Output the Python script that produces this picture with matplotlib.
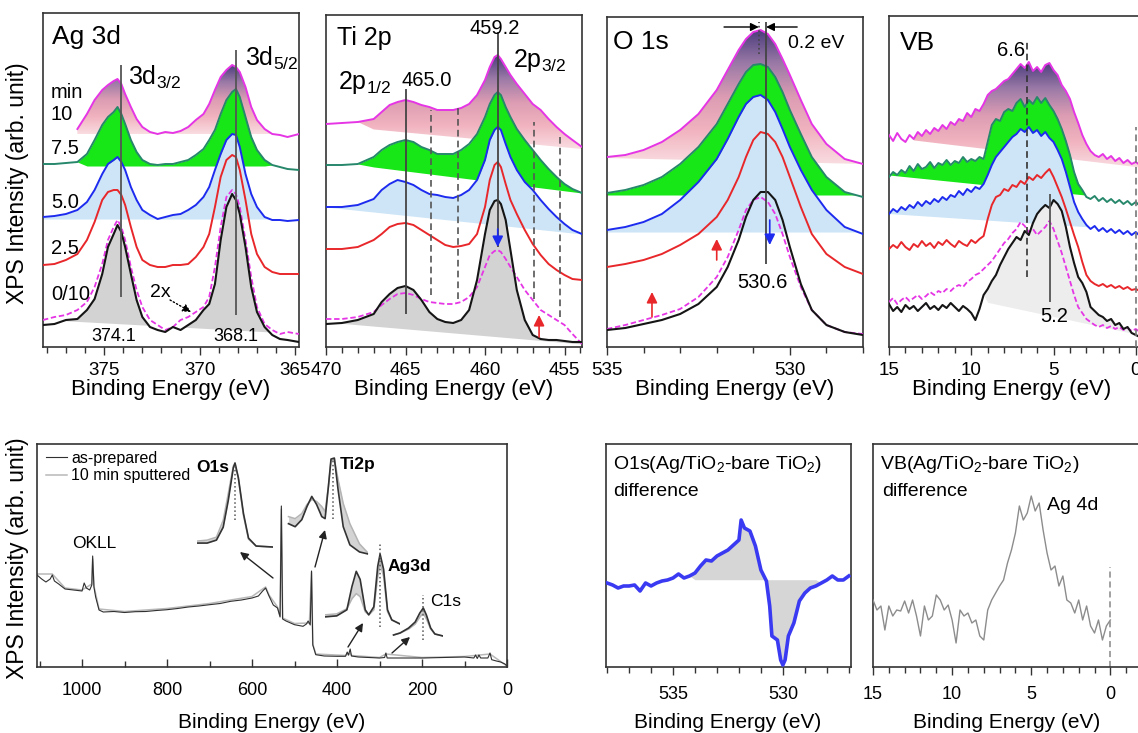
import numpy as np
import matplotlib
matplotlib.use("Agg")
import matplotlib.pyplot as plt
from matplotlib.colors import LinearSegmentedColormap
from matplotlib.path import Path
from matplotlib.ticker import MultipleLocator

plt.rcParams['font.family'] = ['Liberation Sans', 'DejaVu Sans']
plt.rcParams['mathtext.fontset'] = 'custom'
plt.rcParams['mathtext.rm'] = 'Liberation Sans'
plt.rcParams['mathtext.it'] = 'Liberation Sans:italic'
plt.rcParams['mathtext.bf'] = 'Liberation Sans:bold'

W, H = 1138, 733

# ---------------- Ag 3d (sputter time: 10, 7.5, 5.0, 2.5, 0 min + 10 min dashed) ----------------
AG_E = [378.2, 377.6, 377.0, 376.4, 375.9, 375.5, 375.1, 374.8, 374.5, 374.3, 374.1, 373.9, 373.6,
        373.3, 373.0, 372.6, 372.2, 371.8, 371.4, 371.0, 370.6, 370.2, 369.8, 369.5, 369.2, 368.9,
        368.6, 368.3, 368.1, 367.9, 367.6, 367.3, 367.0, 366.6, 366.2, 365.8, 365.4, 364.8]
AG_10 = [218, 233, 247, 257, 262, 266, 268, 263, 253, 240, 228, 220, 215, 213, 215, 214, 216, 220,
         227, 233, 243, 257, 270, 277, 282, 280, 275, 260, 240, 227, 218, 213, 212, 210, 213]
AG_75 = [183, 183, 184, 185, 193, 207, 222, 230, 235, 240, 233, 223, 207, 195, 187, 183, 182, 183, 183,
         185, 187, 192, 198, 207, 217, 233, 247, 255, 258, 250, 230, 210, 197, 187, 182, 180, 178, 177]
AG_50 = [130, 131, 133, 137, 145, 157, 173, 183, 187, 190, 185, 177, 160, 147, 137, 132, 128, 130, 132,
         133, 137, 142, 150, 160, 177, 193, 207, 213, 212, 200, 173, 153, 140, 130, 127, 127, 126, 127]
AG_25 = [82, 83, 87, 93, 107, 125, 147, 155, 157, 157, 152, 142, 120, 100, 87, 82, 80, 80, 82, 82,
         83, 90, 100, 113, 140, 170, 187, 192, 190, 177, 147, 113, 93, 80, 75, 73, 73, 73]
AG_10S = [27, 30, 32, 37, 45, 60, 83, 107, 120, 127, 120, 107, 80, 57, 40, 27, 22, 17, 20, 27,
          30, 35, 40, 50, 80, 120, 150, 157, 153, 140, 107, 70, 40, 23, 17, 13, 15, 13]
AG_0 = [22, 23, 27, 28, 37, 48, 73, 100, 113, 122, 115, 100, 73, 47, 30, 20, 17, 15, 20, 17,
        22, 27, 37, 43, 63, 107, 140, 153, 147, 133, 100, 60, 35, 20, 12, 8, 7, 5]
AG_PEAKS = [374.1, 368.1]

# ---------------- Ti 2p ----------------
TI_E = [470, 469, 468, 467, 466.5, 466, 465.5, 465, 464.5, 464, 463.5, 463, 462.5, 462, 461.5, 461,
        460.5, 460, 459.7, 459.4, 459.2, 459.0, 458.7, 458.4, 458, 457.5, 457, 456.5, 456, 455.5,
        455, 454.5, 453.9]
TI_10 = [223, 224, 225, 228, 235, 242, 245, 247, 245, 242, 240, 237, 237, 237, 239, 243, 252, 267,
         280, 290, 292, 288, 280, 272, 263, 253, 243, 237, 228, 220, 213, 207, 200]
TI_75 = [182, 182, 183, 190, 197, 202, 205, 207, 205, 200, 197, 193, 193, 193, 197, 203, 213, 230,
         243, 252, 255, 252, 240, 230, 218, 207, 197, 187, 178, 170, 163, 158, 154]
TI_50 = [140, 140, 142, 148, 157, 163, 167, 165, 162, 157, 153, 152, 150, 149, 152, 157, 167, 187,
         207, 217, 220, 217, 203, 190, 177, 165, 157, 147, 138, 130, 123, 117, 113]
TI_25 = [98, 98, 100, 107, 113, 120, 123, 124, 122, 117, 112, 107, 102, 100, 101, 103, 113, 140,
         167, 182, 185, 180, 163, 147, 133, 117, 103, 92, 83, 77, 72, 68, 67]
TI_10S = [28, 28, 30, 35, 42, 48, 53, 54, 52, 48, 45, 44, 43, 43, 45, 50, 60, 80, 92, 96, 97, 95,
          88, 80, 70, 57, 47, 37, 32, 27, 22, 13, 3]
TI_0 = [23, 24, 27, 33, 45, 53, 59, 61, 57, 47, 35, 28, 25, 24, 27, 37, 67, 113, 137, 146, 147, 143,
        127, 97, 57, 27, 12, 8, 7, 7, 6, 5, 5]
TI_PEAKS = [465.0, 459.2]
TI_SHOULDERS = [463.4, 461.7, 456.9, 455.3]

# ---------------- O 1s ----------------
O_E = [535, 534.5, 534, 533.5, 533, 532.5, 532, 531.7, 531.4, 531.2, 531.0, 530.8, 530.6, 530.4,
       530.2, 530.0, 529.7, 529.4, 529.0, 528.5, 528.0]
O_10 = [190, 192, 197, 205, 217, 233, 257, 277, 297, 308, 315, 317, 313, 303, 288, 272, 247, 223, 203, 188, 183]
O_75 = [154, 157, 162, 170, 183, 200, 223, 243, 263, 275, 282, 283, 280, 270, 255, 237, 213, 190, 170, 155, 150]
O_50 = [117, 120, 125, 133, 147, 165, 188, 208, 230, 243, 250, 252, 247, 235, 218, 200, 177, 157, 137, 120, 113]
O_25 = [80, 83, 87, 93, 102, 113, 130, 147, 170, 190, 207, 215, 213, 205, 190, 170, 140, 113, 93, 80, 73]
O_10S = [18, 22, 27, 32, 38, 50, 70, 90, 117, 137, 147, 150, 145, 133, 113, 90, 60, 37, 22, 15, 13]
O_0 = [17, 19, 23, 27, 33, 43, 60, 80, 107, 130, 147, 155, 155, 147, 127, 100, 63, 37, 22, 15, 12]
O_PEAK = 530.65
O_SHIFTED = 530.85

# ---------------- valence band ----------------
VB_E = [15.0, 14.75, 14.5, 14.25, 14.0, 13.75, 13.5, 13.25, 13.0, 12.75, 12.5, 12.25, 12.0, 11.75,
        11.5, 11.25, 11.0, 10.75, 10.5, 10.25, 10.0, 9.75, 9.5, 9.25, 9.0, 8.75, 8.5, 8.25, 8.0,
        7.75, 7.5, 7.25, 7.0, 6.75, 6.5, 6.25, 6.0, 5.75, 5.5, 5.25, 5.0, 4.75, 4.5, 4.25, 4.0,
        3.75, 3.5, 3.25, 3.0, 2.75, 2.5, 2.25, 2.0, 1.75, 1.5, 1.25, 1.0, 0.75, 0.5, 0.25, 0.0,
        -0.25, -0.5]
VB_10 = [212, 206, 214, 208, 205, 212, 208, 215, 211, 217, 213, 219, 216, 222, 218, 225, 222, 228,
         226, 234, 230, 238, 236, 243, 252, 256, 258, 262, 266, 268, 273, 278, 283, 279, 285, 276,
         280, 275, 282, 284, 277, 272, 262, 256, 248, 235, 224, 212, 203, 196, 192, 190, 193, 188,
         191, 186, 189, 184, 187, 183, 185, 182, 184]
VB_75 = [170, 175, 172, 177, 174, 181, 176, 183, 178, 180, 185, 179, 184, 182, 187, 182, 186, 184,
         190, 185, 188, 186, 190, 188, 205, 222, 228, 226, 235, 238, 236, 244, 248, 240, 247, 243,
         250, 244, 249, 242, 236, 228, 218, 206, 192, 175, 163, 157, 150, 148, 151, 146, 149, 145,
         148, 144, 147, 143, 146, 142, 145, 141, 144]
VB_50 = [133, 138, 135, 140, 137, 142, 139, 145, 141, 146, 143, 148, 145, 150, 147, 152, 150, 156,
         152, 158, 155, 160, 158, 163, 172, 182, 190, 195, 200, 205, 210, 213, 218, 215, 220, 214,
         217, 211, 215, 209, 205, 197, 188, 175, 160, 145, 135, 128, 122, 118, 121, 116, 119, 115,
         118, 114, 117, 113, 116, 112, 115, 111, 113]
VB_25 = [98, 102, 99, 105, 100, 97, 103, 100, 106, 101, 104, 99, 105, 102, 107, 103, 100, 106, 103,
         101, 107, 104, 108, 111, 128, 142, 150, 152, 158, 156, 162, 160, 166, 163, 170, 167, 172,
         169, 174, 178, 170, 160, 150, 138, 125, 112, 100, 85, 72, 66, 63, 61, 63, 60, 62, 59, 61,
         58, 60, 57, 58, 56, 57]
VB_10S = [45, 49, 43, 47, 50, 46, 49, 52, 48, 51, 55, 52, 56, 54, 58, 56, 60, 62, 60, 65, 68, 72,
          74, 78, 82, 86, 92, 98, 104, 108, 114, 118, 125, 121, 115, 118, 112, 116, 120, 126, 118,
          106, 94, 80, 66, 52, 40, 34, 28, 25, 22, 20, 22, 19, 21, 18, 20, 17, 19, 16, 18, 15, 17]
VB_0 = [43, 36, 40, 35, 42, 38, 41, 36, 40, 44, 38, 41, 37, 42, 39, 44, 40, 36, 41, 38, 34, 27, 38,
        52, 58, 66, 72, 82, 90, 98, 104, 110, 107, 116, 112, 124, 133, 138, 142, 139, 147, 143, 136,
        120, 100, 84, 70, 64, 55, 40, 36, 32, 30, 26, 28, 22, 24, 18, 20, 14, 12, 10, 8]
VB_MARKS = [6.6, 5.2]

# ---------------- survey ----------------
SV_E = [1106, 1095, 1085, 1075, 1070, 1065, 1055, 1040, 1020, 1000, 995, 990, 982, 977, 975, 972,
        968, 960, 950, 925, 900, 875, 850, 825, 800, 775, 750, 725, 700, 675, 650, 625, 600, 585,
        575, 568, 560, 550, 540, 534, 531, 528, 520, 500, 480, 472, 468, 463, 460, 457, 450, 430,
        400, 380, 376, 373, 369, 366, 350, 300, 288, 285, 282, 250, 200, 150, 100, 78, 74, 70, 66,
        62, 45, 40, 36, 25, 15, 5, 0]
SV_ASP = [92, 88, 85, 88, 92, 86, 83, 78, 77, 76, 84, 79, 77, 82, 111, 80, 70, 57, 55, 55.5, 54.5,
          55.3, 55.5, 56.5, 57.3, 58.5, 60, 61, 62.3, 63.5, 65.7, 67, 69, 71, 76, 79, 71, 62, 59, 50,
          161, 48, 46, 42.3, 40.7, 43, 46, 42, 96, 22, 12.3, 11, 10.7, 10.7, 15, 12, 18, 11, 10, 9,
          9.5, 14, 9, 9, 9, 9.5, 10, 9, 12, 8.5, 12, 9, 9, 14, 7.3, 6, 5, 3, 1]
SP_E = [1106, 1070, 1040, 1000, 977, 975, 972, 960, 900, 800, 700, 600, 575, 568, 560, 540, 534,
        531, 528, 500, 465, 460, 457, 450, 380, 376, 373, 369, 366, 300, 285, 200, 100, 40, 0]
SP_SPT = [93, 93, 79, 77, 83, 108, 81, 58, 55.5, 58.5, 63.5, 70.5, 78, 80, 72, 60, 51, 158, 49, 43.5,
          44, 95, 23, 13, 11.5, 13, 12, 14, 11.5, 9.5, 13, 9.5, 10.5, 13, 1]

IN_O_E = [536, 534.8, 533.7, 532.9, 532.3, 531.7, 531.5, 531.1, 530.5, 529.9, 529.0, 527.0]
IN_O_ASP = [7, 7, 10, 23, 50, 83, 88, 73, 37, 12, 4, 3]
IN_O_SPT = [9, 10, 13, 30, 57, 85, 87, 72, 35, 11, 4, 3]
IN_TI_E = [471.3, 469.5, 467.7, 466.3, 465.0, 463.7, 462.3, 461.4, 460.5, 459.8, 458.9, 457.9,
           456.5, 454.7, 452.1, 449.8]
IN_TI_ASP = [33, 30, 37, 50, 60, 52, 40, 38, 70, 97, 98, 67, 30, 12, 5, 3]
IN_TI_SPT = [40, 38, 43, 52, 57, 55, 50, 45, 70, 95, 97, 77, 53, 33, 13, 4]
IN_AG_E = [382.2, 379.2, 376.6, 375.3, 374.2, 373.2, 371.9, 371.0, 369.7, 368.7, 368.1, 367.2,
           366.2, 365.1, 363.0]
IN_AG_ASP = [10, 11, 17, 40, 55, 47, 17, 12, 20, 60, 72, 57, 17, 7, 3]
IN_AG_SPT = [12, 13, 18, 28, 33, 30, 15, 12, 17, 50, 63, 50, 15, 7, 3]
IN_C_E = [292.5, 290.8, 288.6, 286.9, 285.7, 284.8, 284.0, 282.9, 281.8, 279.7]
IN_C_ASP = [5, 7, 12, 18, 27, 32, 25, 12, 6, 4]
IN_C_SPT = [5, 7, 11, 16, 23, 27, 21, 11, 6, 4]

# ---------------- difference spectra ----------------
OD_E = [538, 537.75, 537.5, 537.25, 537, 536.75, 536.5, 536.25, 536, 535.75, 535.5, 535.25, 535,
        534.75, 534.5, 534.25, 534, 533.75, 533.5, 533.25, 533, 532.75, 532.5, 532.25, 532, 531.9,
        531.75, 531.5, 531.25, 531, 530.75, 530.6, 530.5, 530.25, 530.1, 530, 529.9, 529.75, 529.5,
        529.25, 529, 528.75, 528.5, 528.25, 528, 527.75, 527.5, 527.25, 527]
OD_V = [84, 82, 79, 81, 81, 82, 76, 84, 81, 84, 86, 87, 89, 93, 89, 91, 94, 101, 107, 106, 111, 114,
        117, 122, 127, 147, 139, 136, 121, 97, 86, 61, 31, 27, 7, 2, 7, 31, 44, 66, 74, 79, 81, 84,
        87, 91, 87, 87, 91]
OD_ZERO = 87.3

VD_E = [15, 14.75, 14.5, 14.25, 14, 13.75, 13.5, 13.25, 13, 12.75, 12.5, 12.25, 12, 11.75, 11.5,
        11.25, 11, 10.75, 10.5, 10.25, 10, 9.75, 9.5, 9.25, 9, 8.75, 8.5, 8.25, 8, 7.75, 7.5, 7.25,
        7, 6.75, 6.5, 6.25, 6, 5.75, 5.5, 5.25, 5, 4.75, 4.5, 4.25, 4, 3.75, 3.5, 3.25, 3, 2.75,
        2.5, 2.25, 2, 1.75, 1.5, 1.25, 1, 0.75, 0.5, 0.25, 0]
VD_V = [67, 57, 61, 37, 61, 51, 57, 56, 66, 54, 67, 51, 31, 61, 47, 51, 72, 67, 57, 62, 47, 24, 57,
        51, 54, 44, 47, 31, 27, 57, 67, 74, 81, 87, 104, 117, 134, 161, 147, 154, 171, 156, 164,
        137, 114, 97, 101, 81, 91, 67, 64, 54, 67, 47, 61, 41, 34, 47, 27, 41, 47]

MAG, GRN, GRN_FILL = '#e535e5', '#26876b', '#17e617'
BLU, BLU_FILL, RED = '#1d2bef', '#cde5f7', '#e8272b'
BLK, GRAY_FILL = '#151515', '#d3d3d3'
PINK = LinearSegmentedColormap.from_list(
    'pink', ['#f9dde1', '#f1b3bf', '#dc9cb3', '#9b7aa7', '#4c3d7d'])

fig = plt.figure(figsize=(W / 100, H / 100), dpi=100)


def box(x0, y0, x1, y1):
    return [x0 / W, 1 - y1 / H, (x1 - x0) / W, (y1 - y0) / H]


def txt(x, y, s, size=14, **kw):
    kw.setdefault('va', 'center')
    fig.text(x / W, 1 - y / H, s, fontsize=size, **kw)


def panel(rect, xlim, ylim, major, minor, direction='out', pad=5, size=13.5):
    ax = fig.add_axes(box(*rect))
    ax.set_xlim(*xlim)
    ax.set_ylim(*ylim)
    ax.set_autoscale_on(False)
    ax.xaxis.set_major_locator(MultipleLocator(major))
    ax.xaxis.set_minor_locator(MultipleLocator(minor))
    ax.set_yticks([])
    ax.tick_params(axis='x', which='both', direction=direction, width=1, color='#333',
                   labelsize=size, pad=pad)
    ax.tick_params(axis='x', which='major', length=6)
    ax.tick_params(axis='x', which='minor', length=4)
    for s in ax.spines.values():
        s.set_linewidth(1.2)
        s.set_color('#333')
    return ax


def base_line(E, e0, v0, e1, v1):
    return v0 + (np.asarray(E, float) - e0) * (v1 - v0) / (e1 - e0)


def shade(ax, E, y, pts, color=None, emax=None, emin=None, z=1.0, gradient=False):
    E = np.asarray(E, float)
    y = np.asarray(y, float)
    base = base_line(E, *pts)
    mask = y >= base
    if emax is not None:
        mask &= E <= emax
    if emin is not None:
        mask &= E >= emin
    if not gradient:
        ax.fill_between(E, y, base, where=mask, interpolate=True, color=color, lw=0, zorder=z)
        return
    pc = ax.fill_between(E, y, base, where=mask, interpolate=True, facecolor='none',
                         edgecolor='none', zorder=z)
    clip = Path.make_compound_path(*pc.get_paths())
    im = ax.imshow(np.linspace(0, 1, 256).reshape(-1, 1), origin='lower', aspect='auto',
                   extent=[E.max(), E.min(), base.min(), y.max()], cmap=PINK, zorder=z)
    im.set_clip_path(clip, transform=ax.transData)


def curves(ax, E, top, green, blue, red, dashed, black, top_E=None):
    lw = 1.4
    ax.plot(top_E if top_E is not None else E, top, color=MAG, lw=lw, zorder=3)
    ax.plot(E, green, color=GRN, lw=lw, zorder=3)
    ax.plot(E, blue, color=BLU, lw=lw, zorder=3)
    ax.plot(E, red, color=RED, lw=lw, zorder=3)
    ax.plot(E, dashed, color=MAG, lw=1.3, ls=(0, (3, 1.5)), zorder=3)
    ax.plot(E, black, color=BLK, lw=1.5, zorder=3.1)


def arrow(ax, x0, y0, x1, y1, color='k', lw=1.2, ms=14, **kw):
    ax.annotate('', xy=(x1, y1), xytext=(x0, y0),
                arrowprops=dict(arrowstyle='-|>', color=color, lw=lw, mutation_scale=ms,
                                shrinkA=0, shrinkB=0, **kw), zorder=5)


# ---- Ag 3d ----
ax = panel((43, 13, 299, 347), (378.2, 364.8), (0, 334), 5, 1)
ag_top_E = AG_E[len(AG_E) - len(AG_10):]
shade(ax, ag_top_E, AG_10, (378.2, 213, 364.8, 213), emax=376.6, gradient=True, z=1.0)
shade(ax, AG_E, AG_75, (378.2, 181, 364.8, 181), GRN_FILL, emax=376.0, emin=366.3, z=1.1)
shade(ax, AG_E, AG_50, (378.2, 128, 364.8, 128), BLU_FILL, emin=366.5, z=1.2)
shade(ax, AG_E, AG_0, (378.2, 27, 364.8, 13), GRAY_FILL, z=1.3)
curves(ax, AG_E, AG_10, AG_75, AG_50, AG_25, AG_10S, AG_0, top_E=ag_top_E)
ax.vlines(AG_PEAKS[0], 50, 282, color='#555', lw=1.3, zorder=4)
ax.vlines(AG_PEAKS[1], 32, 297, color='#555', lw=1.3, zorder=4)
arrow(ax, 371.55, 47, 370.45, 35, lw=1, ms=12, ls=':')

txt(52, 37, 'Ag 3d', 19)
txt(128, 77, '3d$_{3/2}$', 18)
txt(245, 58, '3d$_{5/2}$', 18)
for y, s in [(93, 'min'), (115, '10'), (148, '7.5'), (202, '5.0'), (248, '2.5'), (295, '0/10')]:
    txt(51, y, s, 14.5)
txt(114, 337, '374.1', 13, ha='center')
txt(236, 337, '368.1', 13, ha='center')
txt(150, 292, '2x', 14)

# ---- Ti 2p ----
ax = panel((326, 15, 582, 347), (470, 453.9), (0, 332), 5, 1)
shade(ax, TI_E, TI_10, (470, 222, 453.9, 198), emax=467.5, gradient=True, z=1.0)
shade(ax, TI_E, TI_75, (470, 186, 453.9, 154), GRN_FILL, emax=467.9, z=1.1)
shade(ax, TI_E, TI_50, (470, 140, 453.9, 113), BLU_FILL, z=1.2)
shade(ax, TI_E, TI_0, (470, 25, 453.9, 3), GRAY_FILL, z=1.3)
curves(ax, TI_E, TI_10, TI_75, TI_50, TI_25, TI_10S, TI_0)
ax.vlines(TI_PEAKS[0], 33, 258, color='#444', lw=1.3, zorder=4)
ax.vlines(TI_PEAKS[1], 100, 315, color='#444', lw=1.3, zorder=4)
for e, lo, hi in zip(TI_SHOULDERS, [52, 48, 48, 30], [237, 240, 225, 212]):
    ax.vlines(e, lo, hi, color='#555', lw=1.2, ls=(0, (4, 2.5)), zorder=4)
arrow(ax, TI_PEAKS[1], 118, TI_PEAKS[1], 100, color=BLU, ms=16)
arrow(ax, 456.6, 10, 456.6, 32, color=RED, ms=16)

txt(337, 38, 'Ti 2p', 18)
txt(495, 28, '459.2', 14.5, ha='center')
txt(513, 60, '2p$_{3/2}$', 18)
txt(338, 82, '2p$_{1/2}$', 18)
txt(402, 80, '465.0', 14.5)

# ---- O 1s ----
ax = panel((607, 17, 863, 347), (535, 528), (0, 330), 5, 1)
shade(ax, O_E, O_10, (535, 189, 528, 183), gradient=True, z=1.0)
shade(ax, O_E, O_75, (535, 152, 528, 152), GRN_FILL, z=1.1)
shade(ax, O_E, O_50, (535, 115, 528, 115), BLU_FILL, z=1.2)
curves(ax, O_E, O_10, O_75, O_50, O_25, O_10S, O_0)
ax.vlines(O_PEAK, 83, 325, color='#444', lw=1.3, zorder=4)
ax.vlines(O_SHIFTED, 293, 325, color='#444', lw=1.2, ls=':', zorder=4)
arrow(ax, 531.8, 320, O_SHIFTED, 320, ms=12, lw=1)
arrow(ax, 529.8, 320, O_PEAK, 320, ms=12, lw=1)
arrow(ax, 530.55, 127, 530.55, 102, color=BLU, ms=16)
arrow(ax, 532.0, 87, 532.0, 108, color=RED, ms=16)
arrow(ax, 533.77, 30, 533.77, 55, color=RED, ms=16)

txt(613, 42, 'O 1s', 19)
txt(788, 43, '0.2 eV', 14)
txt(737, 282, '530.6', 14.5)

# ---- valence band ----
ax = panel((889, 16, 1144, 347), (15, -0.5), (0, 331), 5, 1)
ax.spines['right'].set_visible(False)
shade(ax, VB_E, VB_10, (13.7, 207, 0, 180), emax=13.7, gradient=True, z=1.0)
shade(ax, VB_E, VB_75, (15, 172, -0.5, 146), GRN_FILL, z=1.1)
shade(ax, VB_E, VB_50, (15, 133, -0.5, 116), BLU_FILL, z=1.2)
shade(ax, VB_E, VB_0, (9.1, 45, 0, 13), '#ededed', emax=9.1, z=1.3)
curves(ax, VB_E, VB_10, VB_75, VB_50, VB_25, VB_10S, VB_0)
ax.vlines(VB_MARKS[0], 70, 307, color='#333', lw=1.2, ls=(0, (4, 2.5)), zorder=4)
ax.vlines(VB_MARKS[1], 45, 153, color='#555', lw=1.3, zorder=4)
ax.vlines(0, 0, 220, color='#777', lw=1.2, ls=(0, (4, 2.5)), zorder=4)

txt(900, 43, 'VB', 19)
txt(997, 50, '6.6', 14.5)
txt(1040, 316, '5.2', 14.5)

# ---- survey ----
ax = panel((37, 444, 507, 667), (1106, 0), (0, 223), 200, 100, direction='in', pad=11, size=13)
ax.plot(SP_E, SP_SPT, color='#b8b8b8', lw=1.1, label='10 min sputtered', zorder=2)
ax.plot(SV_E, SV_ASP, color='#303030', lw=0.8, label='as-prepared', zorder=3)
handles, labels = ax.get_legend_handles_labels()
ax.legend(handles[::-1], labels[::-1], loc='upper left', bbox_to_anchor=(-0.005, 1.02),
          frameon=False, fontsize=11.5, handlelength=1.3, handletextpad=0.3, labelspacing=0.15,
          borderaxespad=0.3)

insets = [((197, 458, 273, 550), (536, 527), 93, IN_O_E, IN_O_ASP, IN_O_SPT, 531.5, (30, 86)),
          ((287, 453, 368, 557), (471.7, 449.8), 103, IN_TI_E, IN_TI_ASP, IN_TI_SPT, 459.2, (38, 97)),
          ((325, 543, 400, 627), (382.2, 363.0), 83, IN_AG_E, IN_AG_ASP, IN_AG_SPT, 368.1, (0, 83)),
          ((392, 593, 443, 640), (292.9, 279.7), 47, IN_C_E, IN_C_ASP, IN_C_SPT, 284.8, (0, 45))]
for rect, xl, top, e, asp, spt, mark, span in insets:
    ia = fig.add_axes(box(*rect))
    ia.set_xlim(*xl)
    ia.set_ylim(0, top)
    ia.axis('off')
    ia.patch.set_alpha(0)
    ia.fill_between(e, asp, spt, color='#d4d4d4', lw=0)
    ia.plot(e, spt, color='#b4b4b4', lw=1.1)
    ia.plot(e, asp, color='#333', lw=1.2)
    ia.vlines(mark, *span, color='#555', lw=1.1, ls=':')

for x0, y0, x1, y1 in [(273, 578, 240, 552), (315, 567, 325, 530),
                       (348, 647, 363, 623), (392, 653, 410, 637)]:
    ax.annotate('', xy=(x1 / W, 1 - y1 / H), xytext=(x0 / W, 1 - y0 / H),
                xycoords='figure fraction', textcoords='figure fraction',
                arrowprops=dict(arrowstyle='-|>', color='#222', lw=1, mutation_scale=12,
                                shrinkA=0, shrinkB=0))

txt(72, 544, 'OKLL', 12.5)
txt(196, 467, 'O1s', 12.5, fontweight='bold')
txt(340, 465, 'Ti2p', 12.5, fontweight='bold')
txt(388, 566, 'Ag3d', 12.5, fontweight='bold')
txt(430, 602, 'C1s', 12.5)

# ---- O1s difference ----
ax = panel((606, 444, 851, 667), (538.05, 526.9), (0, 223), 5, 1, pad=8, size=13)
od_e = np.asarray(OD_E, float)
ax.fill_between(od_e, OD_V, OD_ZERO, where=(od_e >= 528.3) & (od_e <= 534.1),
                interpolate=True, color='#d6d6d6', lw=0, zorder=1)
ax.plot(OD_E, OD_V, color='#3a3af2', lw=2.6, zorder=3)
txt(613, 465, 'O1s(Ag/TiO$_2$-bare TiO$_2$)', 14)
txt(613, 491, 'difference', 14)

# ---- VB difference ----
ax = panel((873, 444, 1142, 667), (15, -2), (0, 223), 5, 1, pad=8, size=13)
ax.spines['right'].set_visible(False)
ax.plot(VD_E, VD_V, color='#8c8c8c', lw=1.0, zorder=3)
ax.vlines(0, 0, 100, color='#888', lw=1.1, ls=(0, (4, 2.5)))
txt(880, 465, 'VB(Ag/TiO$_2$-bare TiO$_2$)', 14)
txt(882, 491, 'difference', 14)
txt(1047, 505, 'Ag 4d', 14)

# ---- axis titles ----
for cx in [171, 454, 735, 1012]:
    txt(cx, 390, 'Binding Energy (eV)', 16, ha='center')
for cx in [272, 728, 1007]:
    txt(cx, 722, 'Binding Energy (eV)', 15, ha='center')
txt(18, 183, 'XPS Intensity (arb. unit)', 16.5, ha='center', rotation=90)
txt(18, 558, 'XPS Intensity (arb. unit)', 16.5, ha='center', rotation=90)

fig.savefig('out.png', dpi=100)
